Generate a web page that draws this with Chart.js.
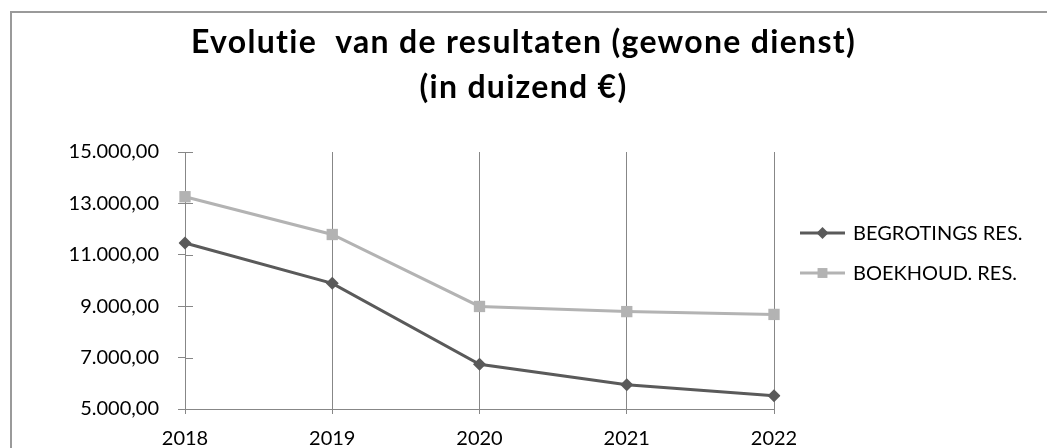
<!DOCTYPE html>
<html>
<head>
<meta charset="utf-8">
<script src="https://cdn.jsdelivr.net/npm/chart.js@4/dist/chart.umd.min.js"></script>
<style>
  html, body { margin: 0; padding: 0; background: #fff; }
  #wrap { position: relative; width: 1047px; height: 448px; }
</style>
</head>
<body>
<div id="wrap"><canvas id="chart"></canvas></div>
<script>
// gegevens
const categories = ['2018', '2019', '2020', '2021', '2022'];
const begrotingsRes = [11460, 9890, 6740, 5940, 5520];
const boekhoudRes = [13260, 11790, 8990, 8790, 8680];
const seriesLabels = ['BEGROTINGS RES.', 'BOEKHOUD. RES.'];
const titleLines = ['Evolutie  van de resultaten (gewone dienst)', '(in duizend €)'];

const GRID = '#878787';
const DARK = '#5a5a5a';
const LIGHT = '#b3b3b3';

// 15000 -> "15.000,00"
function fmt(v) {
  const parts = Math.abs(v).toFixed(2).split('.');
  parts[0] = parts[0].replace(/\B(?=(\d{3})+(?!\d))/g, '.');
  return (v < 0 ? '-' : '') + parts[0] + ',' + parts[1];
}

// kader rond de grafiek (loopt buiten beeld door)
const framePlugin = {
  id: 'frame',
  afterDraw(chart) {
    const ctx = chart.ctx;
    ctx.save();
    ctx.strokeStyle = '#9a9a9a';
    ctx.lineWidth = 2;
    ctx.strokeRect(11, 12, 2000, 2000);
    ctx.restore();
  }
};

// titel gecentreerd over het hele canvas
const titlePlugin = {
  id: 'xlTitle',
  afterDraw(chart) {
    const ctx = chart.ctx;
    ctx.save();
    ctx.fillStyle = '#000';
    ctx.font = 'bold 32px Lato';
    ctx.letterSpacing = '1.3px';
    ctx.textAlign = 'center';
    ctx.textBaseline = 'alphabetic';
    titleLines.forEach((line, i) => {
      ctx.fillText(line, chart.width / 2, 53 + i * 45);
    });
    ctx.restore();
  }
};

// kruisende streepjes op de y-as (ook binnen het plotvlak)
const crossTicks = {
  id: 'crossTicks',
  afterDatasetsDraw(chart) {
    const y = chart.scales.y, ctx = chart.ctx;
    ctx.save();
    ctx.strokeStyle = GRID;
    ctx.lineWidth = 1;
    y.ticks.forEach((t, i) => {
      const py = Math.round(y.getPixelForTick(i)) + 0.5;
      ctx.beginPath();
      ctx.moveTo(y.right, py);
      ctx.lineTo(y.right + 8, py);
      ctx.stroke();
    });
    ctx.restore();
  }
};

// legende in Excel-stijl: lijn met markering
const legendPlugin = {
  id: 'xlLegend',
  afterDraw(chart) {
    const ctx = chart.ctx, area = chart.chartArea;
    const x0 = area.right + 26, x1 = x0 + 45;
    const rows = [233, 273];
    ctx.save();
    chart.data.datasets.forEach((ds, i) => {
      const y = rows[i];
      ctx.strokeStyle = ds.borderColor;
      ctx.lineWidth = 3;
      ctx.beginPath();
      ctx.moveTo(x0, y);
      ctx.lineTo(x1, y);
      ctx.stroke();
      ctx.fillStyle = ds.backgroundColor;
      Chart.helpers.drawPoint(ctx, { pointStyle: ds.pointStyle, radius: ds.pointStyle === 'rect' ? 7 : 6, borderWidth: 0 }, (x0 + x1) / 2, y);
      ctx.fillStyle = '#000';
      ctx.font = '20px Lato';
      ctx.textBaseline = 'middle';
      ctx.fillText(ds.label, x1 + 8, y + 1);
    });
    ctx.restore();
  }
};

new Chart(document.getElementById('chart'), {
  type: 'line',
  data: {
    labels: categories,
    datasets: [
      {
        label: seriesLabels[0],
        data: begrotingsRes,
        borderColor: DARK,
        backgroundColor: DARK,
        borderWidth: 3,
        pointStyle: 'rectRot',
        pointRadius: 6.5,
        pointBorderWidth: 0,
        tension: 0
      },
      {
        label: seriesLabels[1],
        data: boekhoudRes,
        borderColor: LIGHT,
        backgroundColor: LIGHT,
        borderWidth: 3,
        pointStyle: 'rect',
        pointRadius: 8,
        pointBorderWidth: 0,
        tension: 0
      }
    ]
  },
  options: {
    responsive: true,
    maintainAspectRatio: false,
    animation: false,
    layout: { padding: { left: 0, right: 273, top: 152, bottom: 0 } },
    plugins: {
      legend: { display: false },
      tooltip: { enabled: false },
      title: { display: false }
    },
    scales: {
      x: {
        offset: false,
        grid: { color: GRID, lineWidth: 1, tickLength: 5, drawOnChartArea: true },
        border: { color: GRID, width: 1 },
        ticks: { color: '#000', font: { family: 'Lato', size: 20 }, padding: 13, maxRotation: 0 },
        afterFit(s) { s.height = 39; }
      },
      y: {
        min: 5000,
        max: 15000,
        ticks: { stepSize: 2000, color: '#000', font: { family: 'Lato', size: 20 }, padding: 19, callback: v => fmt(v) },
        grid: { drawOnChartArea: false, color: GRID, tickLength: 7 },
        border: { color: GRID, width: 1 },
        afterFit(s) { s.width = 185; }
      }
    }
  },
  plugins: [framePlugin, titlePlugin, crossTicks, legendPlugin]
});
</script>
</body>
</html>
